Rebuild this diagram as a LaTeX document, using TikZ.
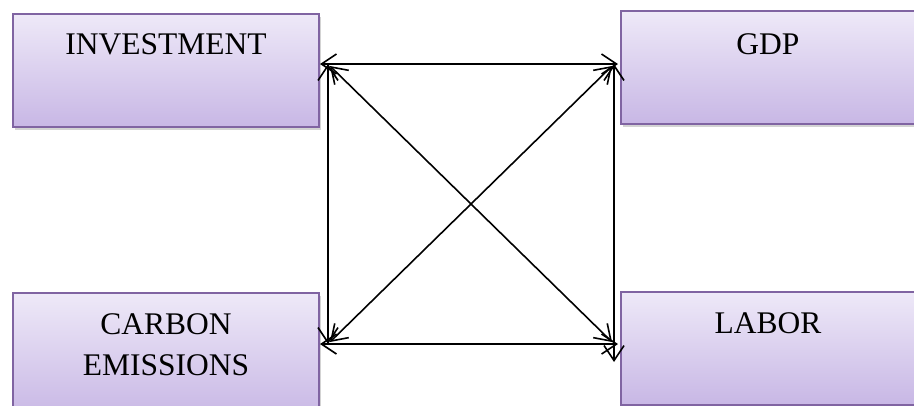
\documentclass[tikz,border=0pt]{standalone}
\usepackage{fontspec}
\setmainfont{Liberation Serif}
\usetikzlibrary{arrows.meta, positioning, shadows}

\definecolor{boxtop}{RGB}{238,233,248}
\definecolor{boxbot}{RGB}{200,183,229}
\definecolor{boxline}{RGB}{128,100,162}

\begin{document}
\begin{tikzpicture}[
    x=1pt, y=-1pt,
    >={Straight Barb[length=15pt, width=20pt]},
    box/.style  = {draw=boxline, line width=2pt, top color=boxtop, bottom color=boxbot,
                   drop shadow={shadow xshift=2pt, shadow yshift=-3pt, opacity=0.35},
                   inner sep=0pt, anchor=north west},
    txt/.style  = {font=\fontsize{31.5}{41}\selectfont, align=center, inner sep=0pt, anchor=north},
    link/.style = {<->, draw=black, line width=1.6pt}
  ]

  \useasboundingbox (0,0) rectangle (914,405);

  % --- boxes ---
  \node[box, minimum width=306pt, minimum height=113pt] (inv)  at (12,13)  {};
  \node[box, minimum width=310pt, minimum height=113pt] (gdp)  at (620,10) {};
  \node[box, minimum width=306pt, minimum height=125pt] (carb) at (12,292) {};
  \node[box, minimum width=310pt, minimum height=113pt] (lab)  at (620,291) {};

  % --- labels ---
  \node[txt, below=20pt of inv.north]  (invt)  {INVESTMENT};
  \node[txt, below=23pt of gdp.north, xshift=-8pt]  (gdpt)  {GDP};
  \node[txt, below=21pt of carb.north] (carbt) {CARBON\\EMISSIONS};
  \node[txt, below=21pt of lab.north, xshift=-8pt]  (labt)  {LABOR};

  % --- arrow ends ---
  \coordinate (tlh) at (320,64);
  \coordinate (trh) at (618,64);
  \coordinate (blh) at (320,344);
  \coordinate (brh) at (618,344);
  \coordinate (tlv) at (328,64);
  \coordinate (blv) at (328,344);
  \coordinate (trv) at (614,64);
  \coordinate (brv) at (614,362);
  \coordinate (tld) at (330,66);
  \coordinate (brd) at (612,342);
  \coordinate (trd) at (612,66);
  \coordinate (bld) at (330,342);

  % --- connections ---
  \draw[link] (tlh) -- (trh);
  \draw[link] (blh) -- (brh);
  \draw[link] (tlv) -- (blv);
  \draw[link] (trv) -- (brv);
  \draw[link] (tld) -- (brd);
  \draw[link] (trd) -- (bld);

\end{tikzpicture}
\end{document}
